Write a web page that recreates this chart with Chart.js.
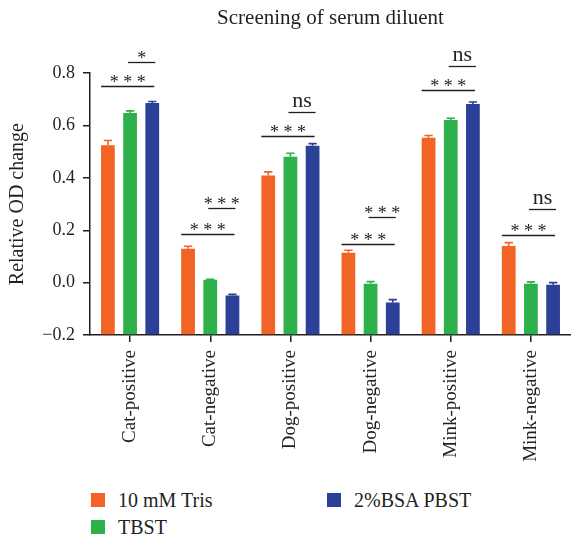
<!DOCTYPE html>
<html>
<head>
<meta charset="utf-8">
<script src="https://cdn.jsdelivr.net/npm/chart.js@4.4.1/dist/chart.umd.min.js"></script>
<style>
  html, body { margin: 0; padding: 0; background: #fff; }
  #wrap { position: relative; width: 571px; height: 542px; }
  #chart { position: absolute; left: 0; top: 0; }
  .legend { position: absolute; font-family: "Liberation Serif", serif; font-size: 20px; color: #231f20; }
  .legend .item { position: absolute; white-space: nowrap; display: flex; align-items: center; }
  .legend .box { width: 14px; height: 14px; margin-right: 13px; }
</style>
</head>
<body>
<div id="wrap">
  <canvas id="chart" width="571" height="475"></canvas>
  <div class="legend" id="legend"></div>
</div>
<script>
// Sample groups along the x axis
const categories = ['Cat-positive', 'Cat-negative', 'Dog-positive', 'Dog-negative', 'Mink-positive', 'Mink-negative'];

// Diluents (series)
const seriesNames = ['10 mM Tris', 'TBST', '2%BSA PBST'];
const seriesColors = ['#f26425', '#2eb14a', '#2b4097'];

// Mean relative OD change per group
const trisValues = [0.525, 0.129, 0.409, 0.114, 0.553, 0.140];
const tbstValues = [0.648, 0.011, 0.481, -0.004, 0.621, -0.004];
const bsaValues  = [0.686, -0.049, 0.523, -0.076, 0.682, -0.008];

// Error (SD) per group
const trisErrors = [0.018, 0.010, 0.014, 0.010, 0.009, 0.013];
const tbstErrors = [0.008, 0.002, 0.013, 0.008, 0.007, 0.007];
const bsaErrors  = [0.006, 0.004, 0.008, 0.011, 0.008, 0.008];

// Significance: Tris vs 2%BSA PBST (lower bracket) and TBST vs 2%BSA PBST (upper bracket)
const sigLowLevels  = [0.753, 0.184, 0.559, 0.149, 0.734, 0.182];
const sigLowLabels  = ['***', '***', '***', '***', '***', '***'];
const sigHighLevels = [0.842, 0.285, 0.650, 0.250, 0.826, 0.281];
const sigHighLabels = ['*', '***', 'ns', '***', 'ns', 'ns'];

// Y axis ticks
const yTicks = [-0.2, 0.0, 0.2, 0.4, 0.6, 0.8];

const ink = '#231f20';
const serif = '"Liberation Serif", "Times New Roman", serif';

const seriesValues = [trisValues, tbstValues, bsaValues];
const seriesErrors = [trisErrors, tbstErrors, bsaErrors];

const datasets = seriesNames.map((name, i) => ({
  label: name,
  data: seriesValues[i],
  errors: seriesErrors[i],
  backgroundColor: seriesColors[i],
  borderWidth: 0,
  base: yTicks[0],
  categoryPercentage: 0.83,
  barPercentage: 0.62
}));

// Error bars drawn upward from each bar top
const errorBars = {
  id: 'errorBars',
  afterDatasetsDraw(chart) {
    const ctx = chart.ctx;
    const y = chart.scales.y;
    chart.data.datasets.forEach((ds, di) => {
      const meta = chart.getDatasetMeta(di);
      meta.data.forEach((bar, i) => {
        const top = y.getPixelForValue(ds.data[i] + ds.errors[i]);
        const half = bar.width * 0.3;
        ctx.save();
        ctx.strokeStyle = ds.backgroundColor;
        ctx.lineWidth = 1.6;
        ctx.beginPath();
        ctx.moveTo(bar.x, bar.y);
        ctx.lineTo(bar.x, top);
        ctx.moveTo(bar.x - half, top);
        ctx.lineTo(bar.x + half, top);
        ctx.stroke();
        ctx.restore();
      });
    });
  }
};

// Significance brackets above each group
const sigBrackets = {
  id: 'sigBrackets',
  afterDraw(chart) {
    const ctx = chart.ctx;
    const y = chart.scales.y;
    const m0 = chart.getDatasetMeta(0).data;
    const m1 = chart.getDatasetMeta(1).data;
    const m2 = chart.getDatasetMeta(2).data;
    const drawOne = (x1, x2, level, label) => {
      const py = Math.round(y.getPixelForValue(level)) + 0.5;
      ctx.save();
      ctx.strokeStyle = ink;
      ctx.lineWidth = 1.3;
      ctx.beginPath();
      ctx.moveTo(x1, py);
      ctx.lineTo(x2, py);
      ctx.stroke();
      ctx.fillStyle = ink;
      ctx.textAlign = 'center';
      ctx.textBaseline = 'alphabetic';
      const cx = (x1 + x2) / 2;
      if (label === 'ns') {
        ctx.font = '22px ' + serif;
        ctx.fillText(label, cx, py - 6);
      } else {
        ctx.font = '18px ' + serif;
        ctx.fillText(label.split('').join(' '), cx, py + 1);
      }
      ctx.restore();
    };
    categories.forEach((c, i) => {
      const lowStart = m0[i].x - m0[i].width / 2;
      const lowEnd = m2[i].x + 2;
      drawOne(lowStart, lowEnd, sigLowLevels[i], sigLowLabels[i]);
      drawOne(m1[i].x - 2, m2[i].x + 3, sigHighLevels[i], sigHighLabels[i]);
    });
  }
};

const chart = new Chart(document.getElementById('chart'), {
  type: 'bar',
  data: { labels: categories, datasets },
  plugins: [errorBars, sigBrackets],
  options: {
    responsive: false,
    animation: false,
    layout: { padding: { top: 0, right: 0, left: 0, bottom: 0 } },
    plugins: {
      legend: { display: false },
      tooltip: { enabled: false },
      title: {
        display: true,
        text: 'Screening of serum diluent',
        fullSize: false,
        color: ink,
        font: { family: serif, size: 21, weight: 'normal' },
        padding: { top: 6, bottom: 42 }
      }
    },
    scales: {
      x: {
        afterFit: s => { s.height = 140; },
        border: { display: true, color: ink, width: 1.5 },
        grid: { display: true, offset: false, drawOnChartArea: false, drawTicks: true, tickLength: 7, color: ink, lineWidth: 1.5 },
        ticks: {
          color: ink,
          font: { family: serif, size: 19 },
          minRotation: 90,
          maxRotation: 90,
          autoSkip: false,
          padding: 8
        }
      },
      y: {
        min: yTicks[0],
        max: yTicks[yTicks.length - 1],
        afterFit: s => { s.width = 90; },
        afterBuildTicks: s => { s.ticks = yTicks.map(v => ({ value: v })); },
        border: { display: true, color: ink, width: 1.5 },
        grid: { display: true, drawOnChartArea: false, drawTicks: true, tickLength: 7, color: ink, lineWidth: 1.5 },
        ticks: {
          color: ink,
          font: { family: serif, size: 18 },
          padding: 8,
          callback: v => v.toFixed(1).replace('-', '\u2212')
        },
        title: {
          display: true,
          text: 'Relative OD change',
          color: ink,
          font: { family: serif, size: 20 },
          padding: { top: 6, bottom: 0 }
        }
      }
    }
  }
});

// Legend laid out in two columns below the plot
const legendPos = [
  { left: 91, top: 490 },
  { left: 91, top: 517 },
  { left: 327, top: 490 }
];
const legendEl = document.getElementById('legend');
seriesNames.forEach((name, i) => {
  const item = document.createElement('div');
  item.className = 'item';
  item.style.left = legendPos[i].left + 'px';
  item.style.top = legendPos[i].top + 'px';
  item.style.height = '20px';
  const box = document.createElement('span');
  box.className = 'box';
  box.style.background = seriesColors[i];
  const txt = document.createElement('span');
  txt.textContent = name;
  item.appendChild(box);
  item.appendChild(txt);
  legendEl.appendChild(item);
});
</script>
</body>
</html>
